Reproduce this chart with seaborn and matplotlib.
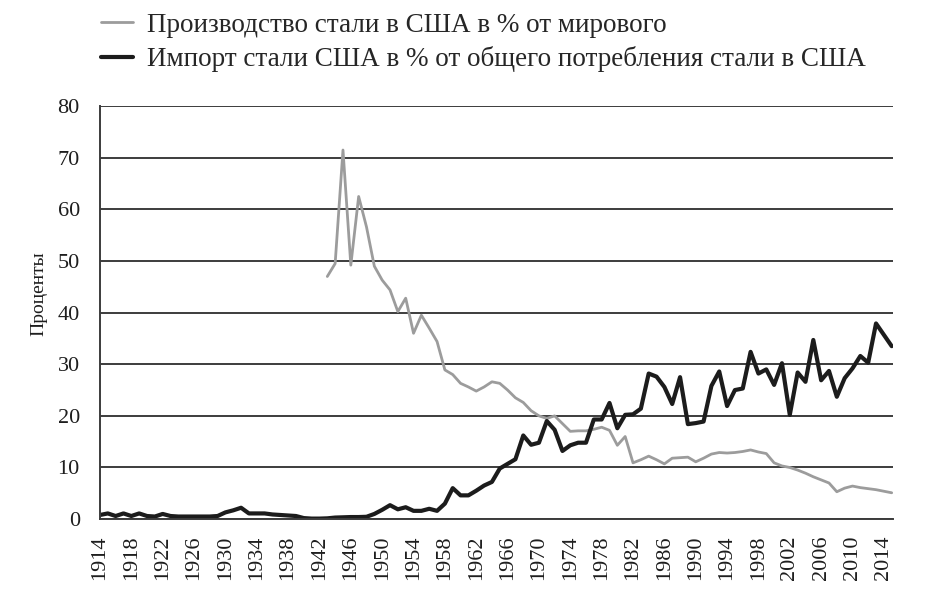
import matplotlib
matplotlib.use("Agg")
import matplotlib.pyplot as plt
import seaborn as sns
import pandas as pd

# ---- data ----
import_years = list(range(1914, 2016))
import_share = [
    0.8, 1.1, 0.6, 1.1, 0.6, 1.1,
    0.6, 0.5, 1.0, 0.6, 0.5, 0.5, 0.5, 0.5, 0.5, 0.6,
    1.3, 1.7, 2.2, 1.1, 1.1, 1.1, 0.9, 0.8, 0.7, 0.6,
    0.2, 0.1, 0.1, 0.15, 0.3, 0.35, 0.4, 0.4, 0.45, 1.0,
    1.8, 2.7, 1.9, 2.3, 1.6, 1.6, 2.0, 1.6, 3.0, 6.0,
    4.6, 4.6, 5.5, 6.5, 7.2, 9.8, 10.7, 11.6, 16.2, 14.4,
    14.8, 19.0, 17.3, 13.2, 14.3, 14.8, 14.8, 19.3, 19.3, 22.5,
    17.6, 20.2, 20.3, 21.4, 28.2, 27.6, 25.6, 22.3, 27.5, 18.4,
    18.6, 18.9, 25.8, 28.6, 21.9, 25.0, 25.3, 32.4, 28.2, 29.0,
    26.0, 30.2, 20.2, 28.4, 26.6, 34.7, 26.9, 28.7, 23.7, 27.3,
    29.2, 31.6, 30.3, 37.9, 35.7, 33.5,
]

prod_years = list(range(1943, 2016))
prod_share = [
    47.0, 49.5, 71.5, 49.2, 62.5, 56.6, 49.0,
    46.3, 44.4, 40.2, 42.8, 36.0, 39.5, 37.0, 34.4, 28.9, 28.0,
    26.3, 25.6, 24.8, 25.6, 26.6, 26.3, 25.0, 23.5, 22.6, 21.0,
    20.0, 19.5, 20.0, 18.5, 17.0, 17.1, 17.1, 17.4, 17.8, 17.2,
    14.3, 16.0, 10.9, 11.5, 12.2, 11.5, 10.7, 11.8, 11.9, 12.0,
    11.1, 11.8, 12.6, 12.9, 12.8, 12.9, 13.1, 13.4, 13.0, 12.7,
    10.9, 10.3, 10.0, 9.5, 8.9, 8.2, 7.6, 7.0, 5.3, 6.0,
    6.4, 6.1, 5.9, 5.7, 5.4, 5.1,
]

label_prod = "Производство стали в США в % от мирового"
label_imp = "Импорт стали США в % от общего потребления стали в США"
y_label = "Проценты"
x_ticks = list(range(1914, 2015, 4))
y_ticks = list(range(0, 81, 10))

df_prod = pd.DataFrame({"year": prod_years, "value": prod_share})
df_imp = pd.DataFrame({"year": import_years, "value": import_share})

# ---- style ----
sns.set_theme(style="white")
plt.rcParams['font.family'] = ['Liberation Serif', 'DejaVu Serif']

fig = plt.figure(figsize=(9.3, 6.1), dpi=100)
ax = fig.add_axes([0.1075, 0.149, 0.853, 0.677])

grid_c = "#3c3c3c"
txt_c = "#1e1e1e"
ax.set_axisbelow(True)
ax.yaxis.grid(True, color=grid_c, linewidth=1.4)
ax.xaxis.grid(False)

sns.lineplot(data=df_prod, x="year", y="value", color="#9c9c9c", linewidth=2.0,
             ax=ax, label=label_prod)
sns.lineplot(data=df_imp, x="year", y="value", color="#1c1c1c", linewidth=3.0,
             ax=ax, label=label_imp)

ax.set_xlim(1914, 2015.2)
ax.set_ylim(0, 80)
ax.set_xticks(x_ticks)
ax.set_xticklabels([str(t) for t in x_ticks], rotation=90, fontsize=16, color=txt_c)
ax.set_yticks(y_ticks)
ax.set_yticklabels([str(t) for t in y_ticks], fontsize=16, color=txt_c)
ax.tick_params(axis='y', length=10, width=1.4, color=grid_c, direction='out', pad=4.5)
ax.tick_params(axis='x', length=8, width=1.4, color=grid_c, direction='out', pad=4)
ax.set_xlabel("")
ax.set_ylabel(y_label, fontsize=14, color=txt_c)
ax.yaxis.set_label_coords(-0.066, 0.547)

for s in ["top", "right"]:
    ax.spines[s].set_visible(False)
for s in ["left", "bottom"]:
    ax.spines[s].set_color(grid_c)
    ax.spines[s].set_linewidth(1.4)

handles, labels = ax.get_legend_handles_labels()
ax.get_legend().remove()
fig.legend(handles, labels, loc="upper left", bbox_to_anchor=(0.1086, 0.979),
           frameon=False, fontsize=19.5, handlelength=1.2, handletextpad=0.5,
           labelspacing=0.31, borderaxespad=0.0, borderpad=0.0)

fig.savefig("out.png", dpi=100)
